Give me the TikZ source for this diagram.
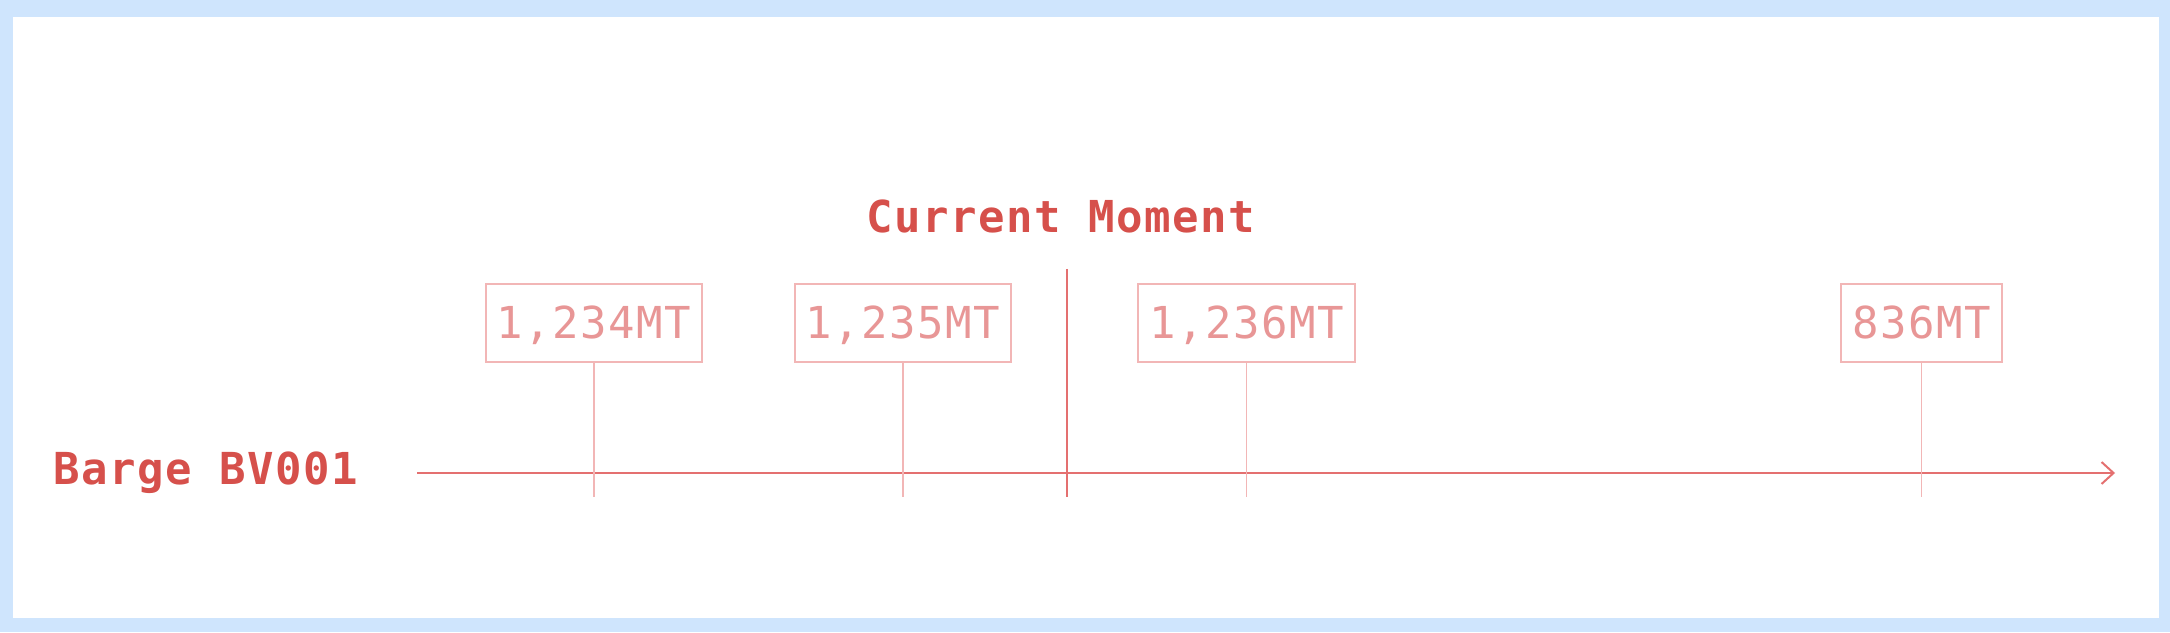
\documentclass[tikz,border=0pt]{standalone}
\usepackage{fontspec}
\usepackage{tikz}
\usetikzlibrary{positioning,arrows.meta}

\newfontfamily\tlmono{DejaVu Sans Mono}[LetterSpace=3.4]

\definecolor{bgblue}{RGB}{207,229,253}
\definecolor{headred}{RGB}{214,80,75}
\definecolor{qtyred}{RGB}{232,150,150}
\definecolor{boxred}{RGB}{242,182,182}
\definecolor{axisred}{RGB}{228,112,112}

\begin{document}
\begin{tikzpicture}[x=1pt, y=1pt,
        head/.style = {text=headred, font=\tlmono\bfseries\fontsize{44}{44}\selectfont},
        qty/.style = {draw=boxred, line width=2pt, text=qtyred, inner xsep=11pt,
            minimum height=78pt, text height=32pt, text depth=0pt,
            font=\tlmono\fontsize{44}{44}\selectfont},
        tick/.style = {draw=boxred, line width=1.6pt},
        axis/.style = {draw=axisred, line width=2.6pt}]

        \fill[bgblue] (0,0) rectangle (2170,632);
        \fill[white] (12.5,14) rectangle (2159,615);

        \coordinate (start) at (417,159);
        \coordinate (end) at (2115,159);
        \coordinate (base) at (0,135);

        \node[head, anchor=base west] (barge) at (50,147) {Barge BV001};

        \node[qty] (q1) at (594,309) {1,234MT};
        \node[qty] (q2) at (903,309) {1,235MT};
        \node[qty] (q3) at (1246.5,309) {1,236MT};
        \node[qty] (q4) at (1921.5,309) {836MT};

        \coordinate (now) at (1067,363);
        \node[head, anchor=base] (nowlabel) at (1061,399) {Current Moment};

        \draw[axis, -{Straight Barb[length=12pt, width=22pt, line width=2pt]}] (start) -- (end);

        \draw[tick] (q1.south) -- (q1.south |- base);
        \draw[tick] (q2.south) -- (q2.south |- base);
        \draw[tick] (q3.south) -- (q3.south |- base);
        \draw[tick] (q4.south) -- (q4.south |- base);

        \draw[axis, line width=2.4pt] (now) -- (now |- base);

        \useasboundingbox (0,0) rectangle (2170,632);
    \end{tikzpicture}
\end{document}
